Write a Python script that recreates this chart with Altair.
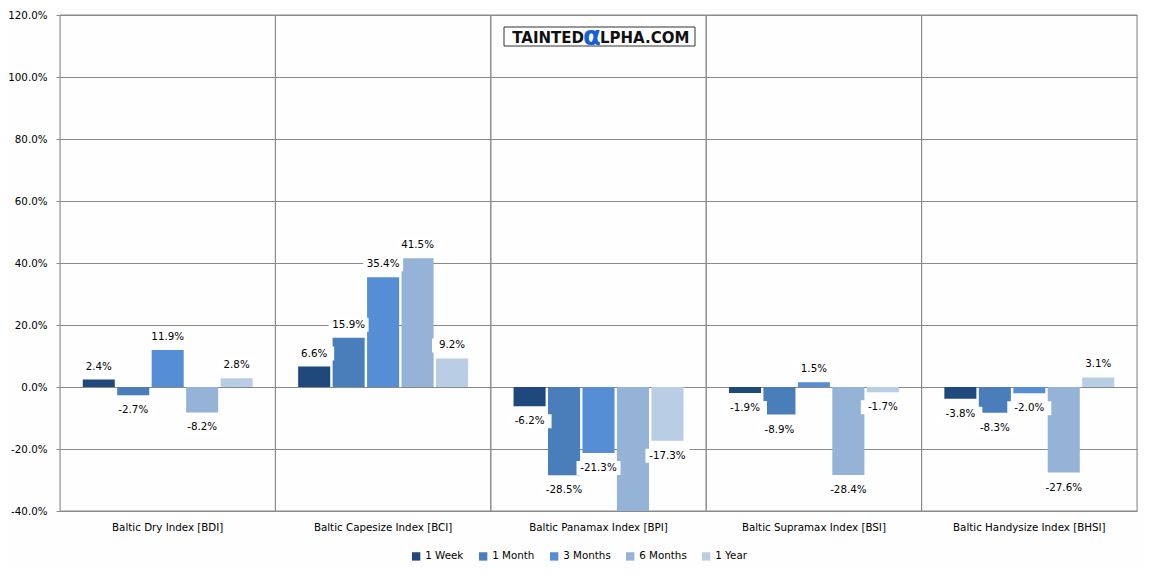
import altair as alt
import pandas as pd

categories = ["Baltic Dry Index [BDI]", "Baltic Capesize Index [BCI]",
              "Baltic Panamax Index [BPI]", "Baltic Supramax Index [BSI]",
              "Baltic Handysize Index [BHSI]"]
periods = ["1 Week", "1 Month", "3 Months", "6 Months", "1 Year"]
week = [2.4, 6.6, -6.2, -1.9, -3.8]
month = [-2.7, 15.9, -28.5, -8.9, -8.3]
three_months = [11.9, 35.4, -21.3, 1.5, -2.0]
six_months = [-8.2, 41.5, -44.0, -28.4, -27.6]
year = [2.8, 9.2, -17.3, -1.7, 3.1]
colors = ["#1f497d", "#4a7ebb", "#558ed5", "#95b3d7", "#b9cde5"]
y_ticks = [-40, -20, 0, 20, 40, 60, 80, 100, 120]

series = [week, month, three_months, six_months, year]
rows = []
for p, vals in zip(periods, series):
    for c, v in zip(categories, vals):
        rows.append({"category": c, "period": p, "value": v})
df = pd.DataFrame(rows)

FONT = "DejaVu Sans"
FS = 10.3
GRID = "#8a8a8a"
PCT = "(datum.value < 0 ? '-' : '') + format(abs(datum.value), '.1f') + '%'"

x_enc = alt.X("category:N", sort=categories,
              scale=alt.Scale(paddingInner=0, paddingOuter=0),
              axis=alt.Axis(title=None, labelAngle=0, ticks=False, grid=False,
                            domain=False, labelPadding=11, labelFontSize=FS,
                            labelColor="#000000", labelFont=FONT))
y_enc = alt.Y("value:Q", scale=alt.Scale(domain=[-40, 120], nice=False, zero=False),
              axis=alt.Axis(title=None, values=y_ticks, labelExpr=PCT,
                            gridColor=GRID, tickColor=GRID, domain=False,
                            tickSize=4, labelPadding=9, labelFontSize=FS,
                            labelColor="#000000", labelFont=FONT))
xoff = alt.XOffset("period:N", sort=periods,
                   scale=alt.Scale(domain=periods, paddingInner=0.07, paddingOuter=0.66))

base = alt.Chart(df).transform_calculate(label=PCT.replace("datum.value", "datum['value']"))

separators = alt.Chart(pd.DataFrame({"category": categories})).mark_rect(
    fillOpacity=0, stroke=GRID, strokeWidth=1
).encode(x=x_enc)

bars = base.mark_bar(clip=True).encode(
    x=x_enc, y=y_enc, xOffset=xoff,
    color=alt.Color("period:N", sort=periods,
                    scale=alt.Scale(domain=periods, range=colors),
                    legend=alt.Legend(title=None, orient="none", direction="horizontal",
                                      legendX=351, legendY=536, symbolType="square",
                                      symbolSize=70, symbolStrokeWidth=0,
                                      labelFontSize=FS, labelFont=FONT,
                                      labelColor="#000000", columnPadding=14,
                                      labelOffset=4)),
)

pos_box = base.transform_filter("datum.value >= 0 && datum.value <= 120").mark_point(
    shape="M-2.0,-2 L2.0,-2 L2.0,-0.6 L-2.0,-0.6 Z", filled=True, fill="white",
    opacity=1, size=400, strokeWidth=0, clip=True
).encode(x=x_enc, y="value:Q", xOffset=xoff)
neg_box = base.transform_filter("datum.value < 0 && datum.value >= -40").mark_point(
    shape="M-2.2,0.8 L2.2,0.8 L2.2,2.2 L-2.2,2.2 Z", filled=True, fill="white",
    opacity=1, size=400, strokeWidth=0, clip=True
).encode(x=x_enc, y="value:Q", xOffset=xoff)

pos_text = base.transform_filter("datum.value >= 0").mark_text(
    baseline="middle", dy=-13, fontSize=FS, font=FONT, color="#000000", clip=True
).encode(x=x_enc, y="value:Q", xOffset=xoff, text="label:N")
neg_text = base.transform_filter("datum.value < 0").mark_text(
    baseline="middle", dy=15, fontSize=FS, font=FONT, color="#000000", clip=True
).encode(x=x_enc, y="value:Q", xOffset=xoff, text="label:N")

one = alt.Data(values=[{"k": 1}])
wm_box = alt.Chart(one).mark_rect(fill="white", stroke="#333333", strokeWidth=1).encode(
    x=alt.value(444), x2=alt.value(635), y=alt.value(12), y2=alt.value(31))
wm_t1 = alt.Chart(one).mark_text(text="TAINTED", align="right", baseline="alphabetic",
                                 fontSize=15, fontWeight="bold", font=FONT,
                                 color="#111111").encode(x=alt.value(524), y=alt.value(28))
wm_a = alt.Chart(one).mark_text(text="α", align="center", baseline="alphabetic",
                                fontSize=26, fontWeight="bold", font=FONT,
                                color="#1560d8").encode(x=alt.value(532), y=alt.value(30))
wm_t2 = alt.Chart(one).mark_text(text="LPHA.COM", align="left", baseline="alphabetic",
                                 fontSize=15, fontWeight="bold", font=FONT,
                                 color="#111111").encode(x=alt.value(540), y=alt.value(28))

chart = alt.layer(
    separators, bars, pos_box, neg_box, pos_text, neg_text, wm_box, wm_t1, wm_a, wm_t2
).properties(
    width=1077, height=496,
    autosize=alt.AutoSizeParams(type="none"),
    padding={"left": 52, "top": 7, "right": 8, "bottom": 58},
    background="#fdfefd",
).configure_view(stroke=GRID, strokeWidth=1).configure(font=FONT)

chart.save("out.html", embed_options={"renderer": "svg", "actions": False})
